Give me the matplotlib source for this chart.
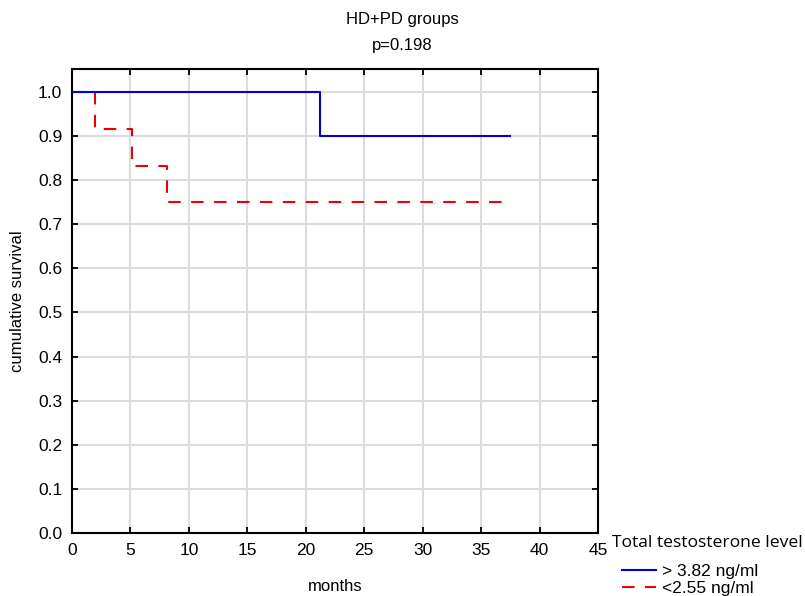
import matplotlib
matplotlib.use("Agg")
import matplotlib.pyplot as plt

# survival curves (step functions)
high_t = [0, 21.2, 37.5]
high_s = [1.0, 0.9, 0.9]
low_t = [0, 2.0, 5.1, 8.1, 37.5]
low_s = [1.0, 0.917, 0.833, 0.75, 0.75]

xticks = [0, 5, 10, 15, 20, 25, 30, 35, 40, 45]
yticks = [0.0, 0.1, 0.2, 0.3, 0.4, 0.5, 0.6, 0.7, 0.8, 0.9, 1.0]

plt.rcParams['font.family'] = ['Liberation Sans', 'DejaVu Sans']

fig = plt.figure(figsize=(8.05, 5.96), dpi=100)
ax = fig.add_axes([0.0894, 0.1057, 0.6536, 0.7785])

ax.step(high_t, high_s, where='post', color='#0000dd', lw=1.5,
        label='> 3.82 ng/ml', zorder=3)
ax.step(low_t, low_s, where='post', color='#ee0000', lw=1.5,
        dashes=(6, 5), label='<2.55 ng/ml', zorder=2)

ax.set_xlim(0, 45)
ax.set_ylim(0, 1.052)
ax.set_xticks(xticks)
ax.set_yticks(yticks)
ax.set_yticklabels(["%.1f" % v for v in yticks])
ax.grid(True, color='#dcdcdc', lw=1.5)
ax.set_axisbelow(True)
ax.tick_params(direction='in', length=4, width=1.3, top=True, right=True,
               labelsize=12.5, pad=7)
for s in ax.spines.values():
    s.set_linewidth(1.5)

ax.set_xlabel('months', fontsize=12, labelpad=15)
ax.set_ylabel('cumulative survival', fontsize=12, labelpad=9)

fig.text(0.5, 0.968, 'HD+PD groups', ha='center', va='center', fontsize=12)
fig.text(0.5, 0.923, 'p=0.198', ha='center', va='center', fontsize=12)

# legend title placed separately so the entries can be indented
fig.text(612 / 805, 1 - 543 / 596, 'Total testosterone level',
         ha='left', va='center', fontsize=12.6,
         family=['Open Sans', 'DejaVu Sans'])
leg = fig.legend(loc='upper left', bbox_to_anchor=(613 / 805, 1 - 555 / 596),
                 frameon=False, fontsize=12.5, handlelength=2.0,
                 handletextpad=0.3, borderpad=0, labelspacing=0.12)

fig.savefig('out.png', dpi=100)
